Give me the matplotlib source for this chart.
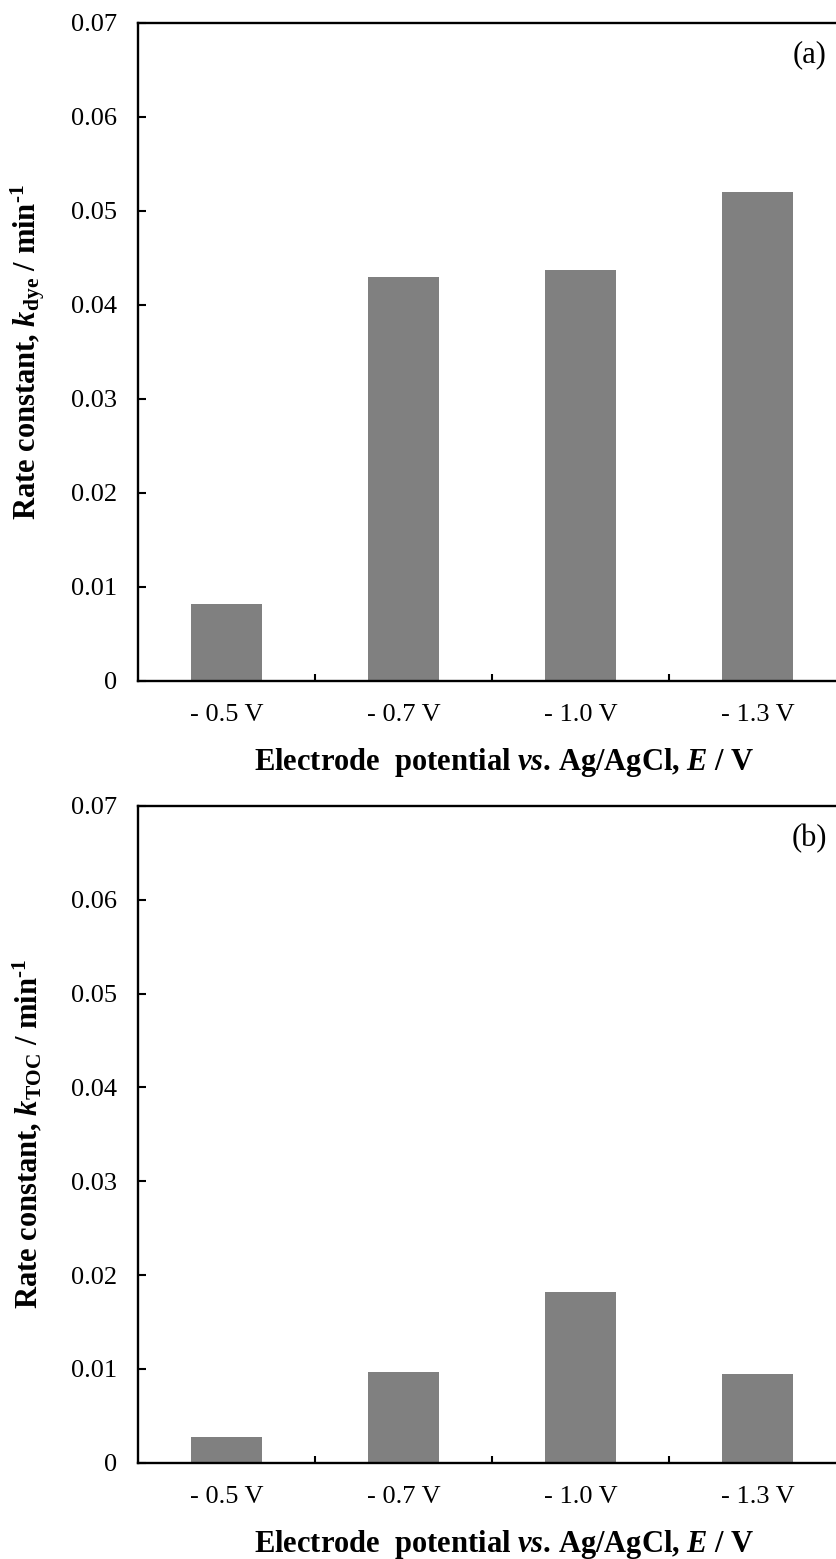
import numpy as np
import matplotlib
matplotlib.use('Agg')
import matplotlib.pyplot as plt

# Data
potentials = ['- 0.5 V', '- 0.7 V', '- 1.0 V', '- 1.3 V']
k_dye = [0.0082, 0.0430, 0.0437, 0.0520]
k_toc = [0.0027, 0.0097, 0.0182, 0.0095]
yticks = [0, 0.01, 0.02, 0.03, 0.04, 0.05, 0.06, 0.07]
ytick_labels = ['0', '0.01', '0.02', '0.03', '0.04', '0.05', '0.06', '0.07']

plt.rcParams['font.family'] = ['Liberation Serif', 'DejaVu Serif']
plt.rcParams['mathtext.fontset'] = 'custom'
plt.rcParams['mathtext.rm'] = 'Liberation Serif:bold'
plt.rcParams['mathtext.it'] = 'Liberation Serif:italic'
plt.rcParams['mathtext.bf'] = 'Liberation Serif:bold'
plt.rcParams['mathtext.bfit'] = 'Liberation Serif:italic:bold'

W, H = 837, 1559
fig = plt.figure(figsize=(W / 100, H / 100), dpi=100)

# axes boxes in pixels: left, top, right, bottom (right edge runs off the figure)
boxes = [(138, 22.7, 846, 680.7), (138, 806, 846, 1462.7)]
ylabels = [r'Rate constant, $\mathbfit{k}_{\mathbf{dye}}$ / min$^{\text{-}\mathbf{1}}$',
           r'Rate constant, $\mathbfit{k}_{\mathbf{TOC}}$ / min$^{\text{-}\mathbf{1}}$']
xlabel = r'Electrode  potential $\mathbfit{vs}$. Ag/AgCl, $\mathbfit{E}$ / V'
tags = ['(a)', '(b)']
series = [k_dye, k_toc]

x = np.arange(len(potentials))
for (l, t, r, b), vals, yl, tag in zip(boxes, series, ylabels, tags):
    ax = fig.add_axes([l / W, 1 - b / H, (r - l) / W, (b - t) / H])
    ax.bar(x, vals, width=0.4, color='#808080', zorder=2)
    ax.set_xlim(-0.5, 3.5)
    ax.set_ylim(0, 0.07)
    ax.set_yticks(yticks)
    ax.set_yticklabels(ytick_labels)
    # ticks between the categories, labels under the bars
    ax.set_xticks(x[:-1] + 0.5)
    ax.set_xticklabels([])
    ax.set_xticks(x, minor=True)
    ax.set_xticklabels(potentials, minor=True)
    ax.tick_params(axis='y', direction='in', length=5.8, width=1.5, labelsize=19, pad=15)
    ax.tick_params(axis='x', which='major', direction='in', length=5, width=1.5)
    ax.tick_params(axis='x', which='minor', length=0, labelsize=19, pad=17)
    for s in ax.spines.values():
        s.set_linewidth(1.7)
    ax.set_xlabel(xlabel, fontsize=22, fontweight='bold', labelpad=14)
    ax.xaxis.label.set_x((504 - l) / (r - l))
    fig.text(28 / W, 1 - (t + b) / 2 / H, yl, rotation=90, ha='center', va='center',
             fontsize=22, fontweight='bold')
    ax.text(0.973, 0.951, tag, transform=ax.transAxes, ha='right', va='center', fontsize=22)

fig.savefig('out.png', dpi=100)
